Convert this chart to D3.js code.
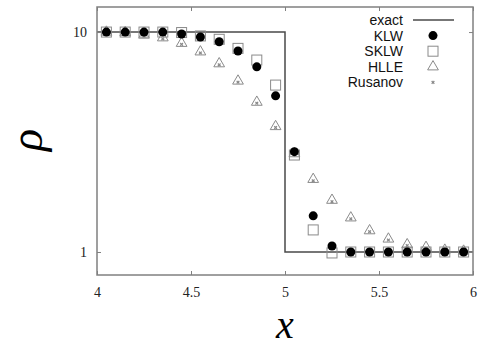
<!DOCTYPE html>
<html><head><meta charset="utf-8">
<script src="https://cdn.jsdelivr.net/npm/d3@7/dist/d3.min.js"></script>
<style>body{margin:0;background:#fff}svg{display:block}</style>
</head><body>
<script>
const xs = [4.05,4.15,4.25,4.35,4.45,4.55,4.65,4.75,4.85,4.95,5.05,5.15,5.25,5.35,5.45,5.55,5.65,5.75,5.85,5.95];
const klw  = [10,10,10,10,9.8,9.5,9.03,8.2,6.95,5.13,2.86,1.46,1.065,1,1,1,1,1,1,1];
const sklw = [10,10,10,10,9.95,9.6,9.27,8.43,7.46,5.74,2.76,1.26,0.99,1,1,1,1,1,1,1];
const hlle = [10,9.95,9.69,9.42,8.89,8.13,7.18,5.99,4.8,3.72,2.8,2.14,1.72,1.43,1.25,1.146,1.08,1.05,1.02,1.01];
const rusanov = [10,9.95,9.68,9.41,8.88,8.12,7.17,5.98,4.8,3.72,2.8,2.13,1.71,1.43,1.25,1.145,1.08,1.05,1.02,1.01];
const exactX = [4,5,5,6];
const exactY = [10,10,1,1];
const xTicks = [4,4.5,5,5.5,6];
const yTicks = [1,10];
const legendNames = ["exact","KLW","SKLW","HLLE","Rusanov"];

const W=481,H=349;
const svg=d3.select("body").append("svg").attr("width",W).attr("height",H);
const x=d3.scaleLinear().domain([4,6]).range([97,473]);
const y=d3.scaleLog().domain([0.786,13.0]).range([275,7]);
const frameCol="#808080";

// exact line
svg.append("path").datum(exactX.map((v,i)=>[v,exactY[i]]))
  .attr("d",d3.line().x(d=>x(d[0])).y(d=>y(d[1])))
  .attr("fill","none").attr("stroke","#4a4a4a").attr("stroke-width",1.5);

// axes with inner ticks
const fmt=d=>String(d);
const gb=svg.append("g").attr("transform",`translate(0,${y.range()[0]})`)
  .call(d3.axisBottom(x).tickValues(xTicks).tickSizeInner(-4).tickSizeOuter(0).tickPadding(12).tickFormat(fmt));
const gl=svg.append("g").attr("transform",`translate(${x.range()[0]},0)`)
  .call(d3.axisLeft(y).tickValues(yTicks).tickSizeInner(-4).tickSizeOuter(0).tickPadding(10).tickFormat(fmt));
const gr=svg.append("g").attr("transform",`translate(${x.range()[1]},0)`)
  .call(d3.axisRight(y).tickValues(yTicks).tickSizeInner(-4).tickSizeOuter(0).tickFormat(""));
const gt=svg.append("g").attr("transform",`translate(0,${y.range()[1]})`)
  .call(d3.axisTop(x).tickValues(xTicks).tickSizeInner(-4).tickSizeOuter(0).tickFormat(""));
[gb,gl,gr,gt].forEach(g=>{
  g.select(".domain").remove();
  g.selectAll("line").attr("stroke",frameCol).attr("stroke-width",1);
  g.selectAll("text").attr("font-family","Liberation Serif, serif").attr("font-size",14).attr("fill","#222");
});
// frame
svg.append("rect").attr("x",x.range()[0]).attr("y",y.range()[1])
  .attr("width",x.range()[1]-x.range()[0]).attr("height",y.range()[0]-y.range()[1])
  .attr("fill","none").attr("stroke",frameCol).attr("stroke-width",1.5);

const markCol="#8a8a8a";
const tri=d3.symbol().type(d3.symbolTriangle).size(50);
// HLLE triangles
svg.append("g").selectAll("path").data(xs.map((v,i)=>[v,hlle[i]])).join("path")
  .attr("d",tri).attr("transform",d=>`translate(${x(d[0])},${y(d[1])})`)
  .attr("fill","none").attr("stroke",markCol).attr("stroke-width",1);
// Rusanov crosses
svg.append("g").selectAll("path").data(xs.map((v,i)=>[v,rusanov[i]])).join("path")
  .attr("d",d3.symbol().type(d3.symbolCross).size(8)).attr("transform",d=>`translate(${x(d[0])},${y(d[1])+1}) rotate(45)`)
  .attr("fill",markCol);
// SKLW squares
svg.append("g").selectAll("rect").data(xs.map((v,i)=>[v,sklw[i]])).join("rect")
  .attr("x",d=>x(d[0])-5).attr("y",d=>y(d[1])-5).attr("width",10).attr("height",10)
  .attr("fill","none").attr("stroke",markCol).attr("stroke-width",1);
// KLW circles
svg.append("g").selectAll("circle").data(xs.map((v,i)=>[v,klw[i]])).join("circle")
  .attr("cx",d=>x(d[0])).attr("cy",d=>y(d[1])).attr("r",4.5).attr("fill","#000");

// legend
const lg=svg.append("g");
legendNames.forEach((n,i)=>{
  const yy=20+i*15.6;
  lg.append("text").attr("x",403).attr("y",yy).attr("dy","0.35em").attr("text-anchor","end")
    .attr("font-family","Liberation Sans, Arial, sans-serif").attr("font-size",14).attr("fill","#111").text(n);
  const cx=433;
  if(i===0) lg.append("line").attr("x1",413).attr("x2",454).attr("y1",yy).attr("y2",yy).attr("stroke","#4a4a4a").attr("stroke-width",1.5);
  if(i===1) lg.append("circle").attr("cx",cx).attr("cy",yy).attr("r",4.5).attr("fill","#000");
  if(i===2) lg.append("rect").attr("x",cx-5).attr("y",yy-5).attr("width",10).attr("height",10).attr("fill","none").attr("stroke",markCol);
  if(i===3) lg.append("path").attr("d",tri).attr("transform",`translate(${cx},${yy})`).attr("fill","none").attr("stroke",markCol);
  if(i===4) lg.append("path").attr("d",d3.symbol().type(d3.symbolCross).size(8)).attr("transform",`translate(${cx},${yy}) rotate(45)`).attr("fill",markCol);
});

// axis titles
svg.append("text").attr("x",285).attr("y",338).attr("text-anchor","middle")
  .attr("font-family","Liberation Serif, serif").attr("font-style","italic").attr("font-size",40).attr("fill","#000").text("x");
svg.append("text").attr("transform","translate(42,140) rotate(-90)").attr("text-anchor","middle")
  .attr("font-family","Liberation Serif, serif").attr("font-style","italic").attr("font-size",46).attr("fill","#000").text("ρ");
</script>
</body></html>
